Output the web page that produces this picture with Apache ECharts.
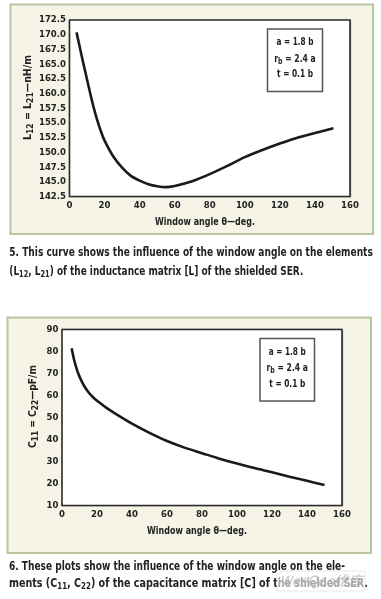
<!DOCTYPE html>
<html>
<head>
<meta charset="utf-8">
<script src="https://cdn.jsdelivr.net/npm/echarts@6/dist/echarts.min.js"></script>
<style>
html,body{margin:0;padding:0;background:#fff;}
#c{width:381px;height:599px;}
</style>
</head>
<body>
<div id="c"></div>
<script>
// ---- data ----
const xTicks = [0, 20, 40, 60, 80, 100, 120, 140, 160];
const lTicks = [142.5, 145, 147.5, 150, 152.5, 155, 157.5, 160, 162.5, 165, 167.5, 170, 172.5];
const cTicks = [10, 20, 30, 40, 50, 60, 70, 80, 90];

const angleL = [4, 6, 8, 10, 12, 14, 16, 18, 20, 25, 30, 35, 40, 45, 50, 55, 60, 70, 80, 90, 100, 110, 120, 130, 140, 150.5];
const inductance = [170.4, 167.7, 165.0, 162.4, 159.8, 157.4, 155.3, 153.5, 152.0, 149.3, 147.4, 146.0, 145.2, 144.6, 144.25, 144.1, 144.3, 145.1, 146.3, 147.7, 149.2, 150.4, 151.5, 152.5, 153.3, 154.1];

const angleC = [5.5, 7, 9, 12, 15, 18, 21, 25, 30, 40, 50, 60, 70, 80, 90, 100, 110, 120, 130, 140, 150];
const capacitance = [81.5, 76.0, 70.6, 65.3, 61.6, 59.0, 57.0, 54.6, 52.0, 47.2, 43.0, 39.3, 36.3, 33.8, 31.3, 29.1, 27.0, 25.1, 23.1, 21.2, 19.3];

const FONT = '"DejaVu Sans Condensed", "DejaVu Sans", sans-serif';
const TXT = '#232323';

function pairs(xs, ys) { return xs.map((x, i) => [x, ys[i]]); }

// text measuring for fitting condensed reference lettering
const mctx = document.createElement('canvas').getContext('2d');
function segWidth(segs, main, sub) {
  let w = 0;
  segs.forEach(s => { mctx.font = s[1] ? sub : main; w += mctx.measureText(s[0]).width; });
  return w;
}
function richStr(segs) { return segs.map(s => '{' + (s[1] ? 's' : 'n') + '|' + s[0] + '}').join(''); }

function makeRich(size, subSize, weight, lh) {
  return {
    n: {fontFamily: FONT, fontSize: size, fontWeight: weight, color: TXT, lineHeight: lh, verticalAlign: 'middle'},
    s: {fontFamily: FONT, fontSize: subSize, fontWeight: weight, color: TXT, lineHeight: lh, verticalAlign: 'bottom'}
  };
}

// fitted text: segs = [[text, isSub], ...], target width in px
function fitText(x, y, segs, target, o) {
  o = o || {};
  const size = o.size || 10.5, subSize = o.subSize || 8.5, weight = o.weight || 'bold', lh = o.lh || 14;
  const main = weight + ' ' + size + 'px ' + FONT, sub = weight + ' ' + subSize + 'px ' + FONT;
  const w = segWidth(segs, main, sub);
  return {
    type: 'text', x: x, y: y, z: 200, rotation: o.rotation || 0,
    scaleX: target / w, scaleY: 1,
    style: {text: richStr(segs), rich: makeRich(size, subSize, weight, lh), align: o.align || 'center',
      verticalAlign: 'middle', font: main, fill: TXT}
  };
}

const chart = echarts.init(document.getElementById('c'), null, {renderer: 'canvas'});

const tickLabel = {color: TXT, fontFamily: FONT, fontSize: 9.5, fontWeight: 'bold'};
function axis(extra) {
  return Object.assign({
    type: 'value',
    axisLine: {show: false},
    axisTick: {show: false},
    splitLine: {show: true, lineStyle: {color: '#8c8c8c', width: 1.3}}
  }, extra);
}

function legendBox(x, y, w, h) {
  const cx = x + w / 2;
  return [
    {type: 'rect', z: 150, shape: {x: x, y: y, width: w, height: h},
     style: {fill: '#fff', stroke: '#555', lineWidth: 1.5}},
    fitText(cx, y + 13.5, [['a = 1.8 b', 0]], 37),
    fitText(cx, y + 30, [['r', 0], ['b', 1], [' = 2.4 a', 0]], 41.5),
    fitText(cx, y + 45.5, [['t = 0.1 b', 0]], 36)
  ];
}

const capOpt = {align: 'left', size: 11.5, subSize: 8.5, lh: 15};

const option = {
  animation: false,
  backgroundColor: '#fff',
  grid: [
    {left: 69.5, top: 20, width: 280.5, height: 176.5, show: true, backgroundColor: '#fff', borderColor: '#2b2b2b', borderWidth: 1.6, z: 2},
    {left: 62, top: 329.5, width: 280, height: 176, show: true, backgroundColor: '#fff', borderColor: '#2b2b2b', borderWidth: 1.6, z: 2}
  ],
  xAxis: [
    axis({gridIndex: 0, min: xTicks[0], max: xTicks[xTicks.length - 1], interval: 20,
      axisLabel: Object.assign({}, tickLabel, {margin: 4})}),
    axis({gridIndex: 1, min: xTicks[0], max: xTicks[xTicks.length - 1], interval: 20,
      axisLabel: Object.assign({}, tickLabel, {margin: 4})})
  ],
  yAxis: [
    axis({gridIndex: 0, min: lTicks[0], max: lTicks[lTicks.length - 1], interval: 2.5,
      axisLabel: Object.assign({}, tickLabel, {margin: 3.5, formatter: v => v.toFixed(1)})}),
    axis({gridIndex: 1, min: cTicks[0], max: cTicks[cTicks.length - 1], interval: 10,
      axisLabel: Object.assign({}, tickLabel, {margin: 3.5})})
  ],
  series: [
    {type: 'line', xAxisIndex: 0, yAxisIndex: 0, data: pairs(angleL, inductance), smooth: 0.3, symbol: 'none',
     lineStyle: {color: '#1a1a1a', width: 2.6}, z: 10},
    {type: 'line', xAxisIndex: 1, yAxisIndex: 1, data: pairs(angleC, capacitance), smooth: 0.3, symbol: 'none',
     lineStyle: {color: '#1a1a1a', width: 2.6}, z: 10}
  ],
  graphic: [
    // panels
    {type: 'rect', z: -10, shape: {x: 10.5, y: 4.5, width: 362.5, height: 229.5},
     style: {fill: '#f5f4e7', stroke: '#b7c6a1', lineWidth: 2}},
    {type: 'rect', z: -10, shape: {x: 7.5, y: 317.5, width: 363.5, height: 235.5},
     style: {fill: '#f5f4e7', stroke: '#b7c6a1', lineWidth: 2}},
    // axis titles
    fitText(205, 222, [['Window angle θ—deg.', 0]], 100),
    fitText(197, 531, [['Window angle θ—deg.', 0]], 100),
    fitText(28, 97.5, [['L', 0], ['12', 1], [' = L', 0], ['21', 1], ['—nH/m', 0]], 85, {rotation: Math.PI / 2}),
    fitText(33, 406.5, [['C', 0], ['11', 1], [' = C', 0], ['22', 1], ['—pF/m', 0]], 83, {rotation: Math.PI / 2}),
    // legend boxes
    ...legendBox(267.5, 29, 55, 62.5),
    ...legendBox(260, 338.5, 54.5, 62.5),
    // captions
    fitText(9.3, 253, [['5. This curve shows the influence of the window angle on the elements', 0]], 363.5, capOpt),
    fitText(9.3, 272, [['(L', 0], ['12', 1], [', L', 0], ['21', 1], [') of the inductance matrix [L] of the shielded SER.', 0]], 294, capOpt),
    fitText(9, 567, [['6. These plots show the influence of the window angle on the ele-', 0]], 336, capOpt),
    fitText(9, 584, [['ments (C', 0], ['11', 1], [', C', 0], ['22', 1], [') of the capacitance matrix [C] of the shielded SER.', 0]], 359, capOpt),
    // watermark
    {type: 'rect', z: 250, shape: {x: 277, y: 571, width: 88, height: 20},
     style: {fill: 'rgba(255,255,255,0.6)', stroke: 'rgba(225,225,225,0.8)', lineWidth: 1}},
    {type: 'text', z: 260, x: 321, y: 581,
     style: {text: 'WeeQoo维库', align: 'center', verticalAlign: 'middle',
       font: 'italic 14px "Noto Sans CJK SC", ' + FONT, fill: 'rgba(175,175,175,0.75)'}}
  ]
};
chart.setOption(option);
</script>
</body>
</html>
